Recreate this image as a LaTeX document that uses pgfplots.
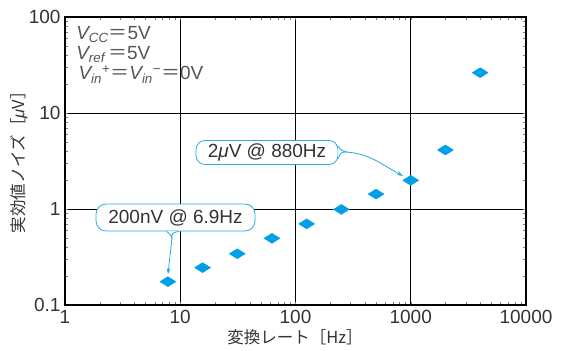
\documentclass[border=0pt]{standalone}
\usepackage{fontspec}
\setmainfont{Liberation Sans}
\newfontfamily\cjk{Noto Sans CJK JP}
\usepackage{pgfplots}
\pgfplotsset{compat=1.18}
\usetikzlibrary{arrows.meta}
\definecolor{mk}{HTML}{00A0E9}
\definecolor{ann}{HTML}{29AAE1}
\definecolor{txt}{HTML}{333333}
\definecolor{vtxt}{HTML}{555555}
\begin{document}
\begin{tikzpicture}
\begin{axis}[
  at={(0,0)}, anchor=south west,
  scale only axis, width=461pt, height=288pt,
  xmode=log, ymode=log,
  xmin=1, xmax=10000, ymin=0.1, ymax=100,
  xtick={1,10,100,1000,10000},
  xticklabels={1,10,100,1000,10000},
  ytick={0.1,1,10,100},
  yticklabels={0.1,1,10,100},
  minor tick num=0,
  minor xtick={}, minor ytick={},
  major tick length=0pt,
  grid=major,
  major grid style={black, line width=0.8pt},
  axis line style={black, line width=1.2pt},
  tick label style={font=\fontsize{19pt}{21pt}\selectfont, text=txt},
  xticklabel style={yshift=-2pt},
  yticklabel style={xshift=-1pt},
  xlabel={\cjk 変換レート［Hz］},
  ylabel={\cjk 実効値ノイズ［{\rmfamily\itshape μ}V］},
  every axis x label/.style={at={(axis description cs:0.499,-0.112)}, anchor=center, font=\fontsize{16.5pt}{19pt}\selectfont, text=txt},
  every axis y label/.style={at={(axis description cs:-0.0998,0.51)}, anchor=center, rotate=90, font=\fontsize{16.5pt}{19pt}\selectfont, text=txt},
  clip=false,
]
\addplot[only marks, mark=diamond*, mark size=5pt, mark options={xscale=2.13, fill=mk, draw=mk}]
coordinates {
(7.8125,0.175) (15.625,0.245) (31.25,0.342) (62.5,0.495) (125,0.70)
(250,0.99) (500,1.43) (1000,1.99) (2000,4.12) (4000,26.3)
};
% annotations
\node[draw=ann, line width=0.8pt, fill=white, rounded corners=9pt, minimum width=142pt, minimum height=24pt, inner sep=0pt,
      font=\fontsize{19pt}{21pt}\selectfont, text=txt] (b1) at (axis cs:56.6,3.88) {2{\itshape μ}V @ 880Hz};
\node[draw=ann, line width=0.8pt, fill=white, rounded corners=10pt, minimum width=159pt, minimum height=27pt, inner sep=0pt,
      font=\fontsize{19pt}{21pt}\selectfont, text=txt] (b2) at (axis cs:9.1,0.815) {200nV @ 6.9Hz};
\draw[ann, line width=0.8pt, fill=white] ([yshift=6pt]b1.east) .. controls +(3pt,-4pt) .. (axis cs:280,3.92) .. controls +(-6pt,0pt) .. ([yshift=-6pt]b1.east);
\draw[ann, line width=0.8pt, -{Stealth[length=6pt,width=4pt]}] (axis cs:280,3.92) to[out=-5,in=152] (axis cs:857,2.21);
\draw[ann, line width=0.8pt, fill=white] ([xshift=-9pt]b2.south) .. controls +(4pt,-3pt) .. (axis cs:8.48,0.499) .. controls +(0pt,5pt) .. ([xshift=3pt]b2.south);
\draw[ann, line width=0.8pt, -{Stealth[length=6pt,width=4pt]}] (axis cs:8.48,0.499) -- (axis cs:7.83,0.21);
% conditions
\node[anchor=west, text=vtxt, font=\fontsize{19pt}{21pt}\selectfont, inner sep=0pt] at (axis description cs:0.024,0.94)
  {{\itshape V}\textsubscript{\itshape CC}{\cjk ＝}5V};
\node[anchor=west, text=vtxt, font=\fontsize{19pt}{21pt}\selectfont, inner sep=0pt] at (axis description cs:0.024,0.87)
  {{\itshape V}\textsubscript{\itshape ref}\,{\cjk ＝}5V};
\node[anchor=west, text=vtxt, font=\fontsize{19pt}{21pt}\selectfont, inner sep=0pt] at (axis description cs:0.029,0.80)
  {{\itshape V}\textsubscript{\itshape in}\textsuperscript{+}{\cjk ＝}{\itshape V}\textsubscript{\itshape in}\textsuperscript{−}{\cjk ＝}0V};
\end{axis}
\path (-65pt,-46pt) rectangle (498pt,305pt);
\end{tikzpicture}
\end{document}
